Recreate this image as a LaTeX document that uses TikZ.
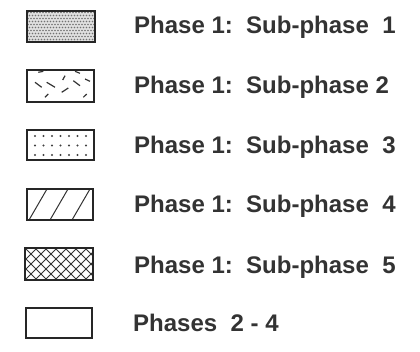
\documentclass[tikz,border=0pt]{standalone}
\usepackage{fontspec}
\setmainfont{Liberation Sans}
\begin{document}
\begin{tikzpicture}[x=1pt,y=-1pt,
  legbox/.style={draw=black!85,line width=1.8pt},
  hatch/.style={black!80,line width=1pt},
  legtext/.style={anchor=base west,inner sep=0pt,text=black!80,font=\fontsize{24}{26}\selectfont\bfseries}]
\useasboundingbox (0,0) rectangle (420,351);
% box 1: fine stipple
\begin{scope}
\clip (27,11) rectangle (95,42);
\fill[black!12] (27,11) rectangle (95,42);
\foreach \j in {0,...,10}{
  \pgfmathsetmacro{\off}{mod(\j,2)*1.5}
  \foreach \i in {0,...,22}{
    \fill[black!55] (28+\off+\i*3,12.5+\j*3) circle (0.9);
  }
}
\end{scope}
\draw[legbox] (27,11) rectangle (95,42);
% box 2: random strokes
\draw[legbox] (27,70) rectangle (94,102);
\foreach \a/\b/\c/\d in {38.3/72.3/43.3/71.3, 35/82.3/41.7/87.3, 46.7/82.3/55/87.3,
  62.7/80/65/75.7, 61.7/92.3/68.3/88, 73.3/80.7/80/85.7, 75/71.3/80/73.3,
  85/79/90/81.3, 45/97.3/48.3/94, 83.3/97.3/86.7/94}{
  \draw[hatch,line width=1.2pt] (\a,\b) -- (\c,\d);
}
% box 3: sparse dots
\draw[legbox] (27,130) rectangle (94,160);
\foreach \y in {136,145.5,155}{
  \foreach \x in {35,43.5,52,60.5,69,77.5,86}{
    \fill[black!75] (\x,\y) circle (1.1);
  }
}
% box 4: diagonal lines
\begin{scope}
\clip (27,189) rectangle (93,220);
\foreach \s in {0,21,43}{
  \draw[hatch] (29+\s,220) -- (47+\s,189);
}
\end{scope}
\draw[legbox] (27,189) rectangle (93,220);
% box 5: crosshatch
\begin{scope}
\clip (25,248) rectangle (93,280);
\foreach \s in {-40,-30,...,80}{
  \draw[black!80,line width=1pt] (25+\s,280) -- (57+\s,248);
  \draw[black!80,line width=1pt] (25+\s,248) -- (57+\s,280);
}
\end{scope}
\draw[legbox] (25,248) rectangle (93,280);
% box 6: empty
\draw[legbox] (26,308) rectangle (92,338);
% texts
\node[legtext] (t1) at (134,33.5) {Phase 1:\ \ Sub-phase\ \ 1};
\node[legtext] (t2) at (134,93) {Phase 1:\ \ Sub-phase 2};
\node[legtext] (t3) at (134,153.3) {Phase 1:\ \ Sub-phase\ \ 3};
\node[legtext] (t4) at (134,212) {Phase 1:\ \ Sub-phase\ \ 4};
\node[legtext] (t5) at (134,273.3) {Phase 1:\ \ Sub-phase\ \ 5};
\node[legtext] (t6) at (133,331.7) {Phases\ \ 2 - 4};
\end{tikzpicture}
\end{document}
